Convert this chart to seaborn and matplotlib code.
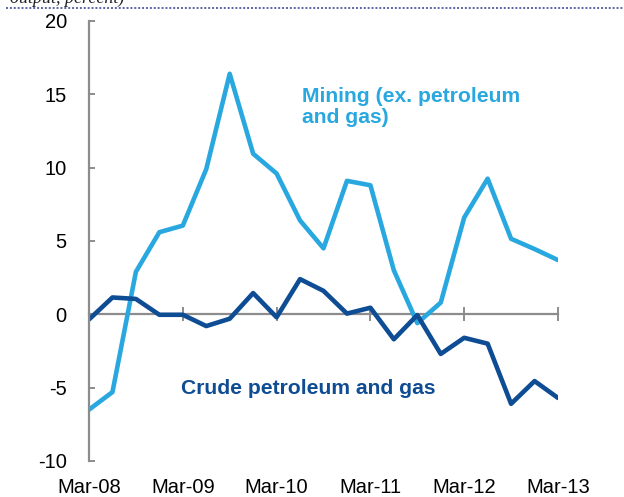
import numpy as np
import pandas as pd
import matplotlib
matplotlib.use("Agg")
import matplotlib.pyplot as plt
import seaborn as sns

quarters = ["Mar-08", "Jun-08", "Sep-08", "Dec-08",
            "Mar-09", "Jun-09", "Sep-09", "Dec-09",
            "Mar-10", "Jun-10", "Sep-10", "Dec-10",
            "Mar-11", "Jun-11", "Sep-11", "Dec-11",
            "Mar-12", "Jun-12", "Sep-12", "Dec-12",
            "Mar-13"]
mining = [-6.5, -5.3, 2.9, 5.6, 6.05, 9.9, 16.4, 10.95, 9.6, 6.4, 4.5,
          9.1, 8.8, 3.0, -0.6, 0.8, 6.6, 9.25, 5.15, 4.45, 3.7]
crude = [-0.35, 1.15, 1.05, -0.03, -0.03, -0.8, -0.3, 1.45, -0.2, 2.4, 1.6,
         0.05, 0.45, -1.7, -0.05, -2.7, -1.6, -2.0, -6.1, -4.55, -5.7]
year_ticks = ["Mar-08", "Mar-09", "Mar-10", "Mar-11", "Mar-12", "Mar-13"]
y_ticks = [-10, -5, 0, 5, 10, 15, 20]

light = "#29A8E0"
dark = "#0E4C94"
grey = "#8C8C8C"

n = len(quarters)
df = pd.DataFrame({
    "pos": list(range(n)) * 2,
    "value": mining + crude,
    "series": ["Mining"] * n + ["Crude"] * n,
})

sns.set_theme(style="white")
plt.rcParams["font.family"] = ["Liberation Sans", "DejaVu Sans"]

fig = plt.figure(figsize=(6.24, 4.97), dpi=100)
ax = fig.add_axes([89 / 624, 1 - 461 / 497, (558 - 89) / 624, (461 - 21) / 497])

sns.lineplot(data=df, x="pos", y="value", hue="series",
             palette={"Mining": light, "Crude": dark},
             linewidth=3.3, legend=False, ax=ax)

ax.set_xlim(0, n - 1)
ax.set_ylim(-10, 20)
ax.set_xlabel("")
ax.set_ylabel("")

# spines
for s in ["top", "right"]:
    ax.spines[s].set_visible(False)
ax.spines["left"].set_color(grey)
ax.spines["left"].set_linewidth(1.6)
ax.spines["bottom"].set_position(("data", 0))
ax.spines["bottom"].set_color(grey)
ax.spines["bottom"].set_linewidth(1.6)
ax.spines["bottom"].set_zorder(0.5)

ax.set_yticks(y_ticks)
ax.set_yticklabels([str(v) for v in y_ticks])
ax.tick_params(axis="y", direction="in", length=4, width=1.4, color=grey,
               labelsize=14.5, pad=16, labelcolor="black", left=True)

tick_pos = [quarters.index(q) for q in year_ticks]
ax.set_xticks(tick_pos)
ax.tick_params(axis="x", direction="inout", length=10, width=1.4, color=grey,
               labelbottom=False, bottom=True)

sec = ax.secondary_xaxis(0)
sec.set_xticks(tick_pos)
sec.set_xticklabels(year_ticks)
sec.spines["bottom"].set_visible(False)
sec.tick_params(axis="x", length=0, labelsize=14.5, pad=12, labelcolor="black")

# series labels
ax.text(9.08, 15.5, "Mining (ex. petroleum\nand gas)", color=light,
        fontsize=15.2, fontweight="bold", ha="left", va="top", linespacing=1.15)
ax.text(3.92, -5.4, "Crude petroleum and gas", color=dark,
        fontsize=15.2, fontweight="bold", ha="left", va="baseline")

# clipped header remnant and dotted rule
fig.text(10 / 624, 1 - 3 / 497, "output, percent)", fontsize=13,
         family=["Liberation Serif", "DejaVu Serif"], style="italic",
         ha="left", va="baseline", color="#222222")
fig.add_artist(plt.Line2D([6 / 624, 1.0], [1 - 8 / 497, 1 - 8 / 497],
                          transform=fig.transFigure, color="#5A64A8",
                          linewidth=1.4, linestyle=(0, (1, 1))))

fig.savefig("out.png", dpi=100)
